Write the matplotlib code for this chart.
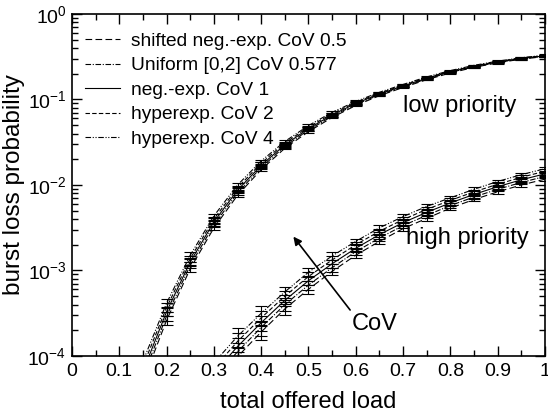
import matplotlib
matplotlib.use("Agg")
import matplotlib.pyplot as plt
from matplotlib.ticker import LogLocator, MultipleLocator, LogFormatterMathtext, NullFormatter

plt.rcParams['font.family'] = ['Liberation Sans', 'DejaVu Sans']
plt.rcParams['mathtext.fontset'] = 'custom'
plt.rcParams['mathtext.rm'] = 'Liberation Sans'
plt.rcParams['mathtext.it'] = 'Liberation Sans'

# offered load grid for each priority class
load_low = [0.15, 0.2, 0.25, 0.3, 0.35, 0.4, 0.45, 0.5, 0.55, 0.6,
            0.65, 0.7, 0.75, 0.8, 0.85, 0.9, 0.95, 1.0]
load_high = [0.3, 0.35, 0.4, 0.45, 0.5, 0.55, 0.6, 0.65, 0.7, 0.75,
             0.8, 0.85, 0.9, 0.95, 1.0]

labels = ["shifted neg.-exp. CoV 0.5", "Uniform [0,2] CoV 0.577",
          "neg.-exp. CoV 1", "hyperexp. CoV 2", "hyperexp. CoV 4"]

# burst loss probability, low priority
low_cov05 = [5.0e-5, 2.62e-4, 1.05e-3, 3.15e-3, 7.58e-3, 1.515e-2, 2.69e-2, 4.21e-2, 6.16e-2,
             8.51e-2, 0.1108, 0.1382, 0.1705, 0.2043, 0.2374, 0.2688, 0.2964, 0.318]
low_cov0577 = [5.75e-5, 2.94e-4, 1.15e-3, 3.41e-3, 8.12e-3, 1.605e-2, 2.82e-2, 4.39e-2, 6.38e-2,
               8.75e-2, 0.1134, 0.141, 0.1737, 0.2077, 0.2406, 0.2717, 0.2993, 0.3211]
low_cov1 = [6.6e-5, 3.3e-4, 1.26e-3, 3.7e-3, 8.7e-3, 1.70e-2, 2.95e-2, 4.57e-2, 6.6e-2,
            9.0e-2, 0.116, 0.144, 0.177, 0.211, 0.244, 0.275, 0.302, 0.324]
low_cov2 = [7.6e-5, 3.7e-4, 1.38e-3, 4.0e-3, 9.3e-3, 1.80e-2, 3.09e-2, 4.76e-2, 6.83e-2,
            9.25e-2, 0.1187, 0.147, 0.180, 0.214, 0.247, 0.278, 0.305, 0.327]
low_cov4 = [8.7e-5, 4.15e-4, 1.51e-3, 4.35e-3, 1.0e-2, 1.91e-2, 3.23e-2, 4.96e-2, 7.08e-2,
            9.5e-2, 0.1215, 0.150, 0.1837, 0.218, 0.251, 0.281, 0.308, 0.330]

# burst loss probability, high priority
high_cov05 = [4.8e-5, 9.8e-5, 1.91e-4, 3.55e-4, 6.03e-4, 9.77e-4, 1.51e-3, 2.19e-3, 3.09e-3,
              4.07e-3, 5.37e-3, 6.76e-3, 8.32e-3, 1.00e-2, 1.17e-2]
high_cov0577 = [5.5e-5, 1.12e-4, 2.16e-4, 3.98e-4, 6.76e-4, 1.08e-3, 1.66e-3, 2.40e-3, 3.35e-3,
                4.42e-3, 5.75e-3, 7.24e-3, 8.91e-3, 1.07e-2, 1.26e-2]
high_cov1 = [6.3e-5, 1.29e-4, 2.45e-4, 4.47e-4, 7.6e-4, 1.20e-3, 1.82e-3, 2.63e-3, 3.63e-3,
             4.79e-3, 6.17e-3, 7.76e-3, 9.55e-3, 1.15e-2, 1.35e-2]
high_cov2 = [7.2e-5, 1.48e-4, 2.79e-4, 5.01e-4, 8.51e-4, 1.33e-3, 2.00e-3, 2.88e-3, 3.94e-3,
             5.19e-3, 6.61e-3, 8.32e-3, 1.02e-2, 1.23e-2, 1.45e-2]
high_cov4 = [8.3e-5, 1.70e-4, 3.16e-4, 5.62e-4, 9.55e-4, 1.48e-3, 2.19e-3, 3.16e-3, 4.27e-3,
             5.62e-3, 7.08e-3, 8.91e-3, 1.10e-2, 1.32e-2, 1.55e-2]

# relative half-width of the confidence intervals (first point of each set has none)
low_rel_err = [0.0, 0.12, 0.08, 0.06, 0.05, 0.04, 0.03, 0.03, 0.025, 0.025,
               0.02, 0.02, 0.02, 0.02, 0.02, 0.02, 0.02, 0.02]
high_rel_err = [0.0, 0.25, 0.2, 0.15, 0.12, 0.1, 0.08, 0.07, 0.07, 0.06,
                0.06, 0.05, 0.05, 0.05, 0.05]

low_series = [low_cov05, low_cov0577, low_cov1, low_cov2, low_cov4]
high_series = [high_cov05, high_cov0577, high_cov1, high_cov2, high_cov4]

styles = [(0, (6, 3)), (0, (5, 1.5, 1, 1.5)), '-', (0, (4, 2)), (0, (5, 1.5, 1, 1.5, 1, 1.5))]

fig = plt.figure(figsize=(5.48, 4.19), dpi=100)
ax = fig.add_axes([0.1314, 0.1504, 0.8631, 0.8162])

def draw(xs, series, rel_err, with_label):
    for ys, ls, lab in zip(series, styles, labels):
        ax.plot(xs, ys, color='black', lw=0.8, linestyle=ls,
                label=lab if with_label else None)
        ex = [x for x, r in zip(xs, rel_err) if r > 0]
        ey = [y for y, r in zip(ys, rel_err) if r > 0]
        er = [y * r for y, r in zip(ys, rel_err) if r > 0]
        ax.errorbar(ex, ey, yerr=er, fmt='none', ecolor='black', elinewidth=0.8,
                    capsize=4, capthick=0.8)

draw(load_low, low_series, low_rel_err, True)
draw(load_high, high_series, high_rel_err, False)

ax.set_yscale('log')
ax.set_xlim(0, 1)
ax.set_ylim(1e-4, 1)
ax.xaxis.set_minor_locator(MultipleLocator(0.05))
ax.set_xticks([0, 0.1, 0.2, 0.3, 0.4, 0.5, 0.6, 0.7, 0.8, 0.9, 1.0])
ax.set_xticklabels(['0', '0.1', '0.2', '0.3', '0.4', '0.5', '0.6', '0.7', '0.8', '0.9', '1'])
ax.yaxis.set_major_locator(LogLocator(base=10, numticks=10))
ax.yaxis.set_minor_locator(LogLocator(base=10, subs=range(2, 10), numticks=10))
ax.yaxis.set_major_formatter(LogFormatterMathtext())
ax.yaxis.set_minor_formatter(NullFormatter())
ax.tick_params(which='both', direction='in', top=True, right=True, labelsize=14, width=1)
ax.tick_params(which='major', length=7)
ax.tick_params(which='minor', length=4)
ax.tick_params(axis='x', pad=5)
ax.tick_params(axis='y', pad=4)
for s in ax.spines.values():
    s.set_linewidth(1.2)

ax.set_xlabel('total offered load', fontsize=17, labelpad=8)
ax.set_ylabel('burst loss probability', fontsize=17.5, labelpad=2)

ax.text(0.82, 0.084, 'low priority', fontsize=17, ha='center', va='center')
ax.text(0.835, 2.4e-3, 'high priority', fontsize=17, ha='center', va='center')
ax.text(0.641, 2.37e-4, 'CoV', fontsize=17, ha='center', va='center')
ax.annotate('', xy=(0.468, 2.49e-3), xytext=(0.588, 3.45e-4),
            arrowprops=dict(arrowstyle='-|>', color='black', lw=1.2,
                            mutation_scale=12, shrinkA=0, shrinkB=0))

leg = ax.legend(loc='upper left', bbox_to_anchor=(0.0, 0.985), frameon=False,
                fontsize=13.8, handlelength=1.8, handletextpad=0.6,
                labelspacing=0.37, borderaxespad=0.3)

fig.savefig('out.png', dpi=100)
